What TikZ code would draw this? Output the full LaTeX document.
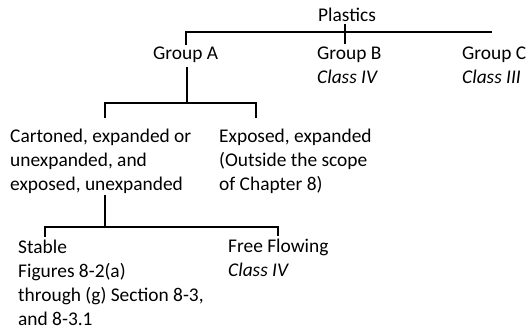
\documentclass[tikz,border=0pt]{standalone}
\usepackage{fontspec}
\setmainfont{Carlito}
\begin{document}
\begin{tikzpicture}[x=1pt,y=-1pt]
\tikzset{
  lbl/.style={inner sep=0pt, anchor=base west, align=left, font=\fontsize{19.4}{24}\selectfont},
  conn/.style={line width=1.6pt},
}
\useasboundingbox (0,0) rectangle (528,330);
% texts (anchor at baseline of the last line)
\node[lbl,anchor=base] (plastics) at (347,21) {Plastics};
\node[lbl] (groupA) at (153,59) {Group A};
\node[lbl] (groupB) at (317,83) {Group B\\\textit{Class IV}};
\node[lbl] (groupC) at (462,83) {Group C\\\textit{Class III}};
\node[lbl] (cart) at (10,190) {Cartoned, expanded or\\unexpanded, and\\exposed, unexpanded};
\node[lbl] (expo) at (219,190) {Exposed, expanded\\(Outside the scope\\of Chapter 8)};
\node[lbl] (stable) at (18,325) {Stable\\Figures 8-2(a)\\through (g) Section 8-3,\\and 8-3.1};
\node[lbl] (free) at (228,276) {Free Flowing\\\textit{Class IV}};
% junction points
\coordinate (ta) at (186,45);
\coordinate (tl) at (186,32);
\coordinate (tr) at (492,32);
\coordinate (pt) at (345,24);
\coordinate (pb) at (345,44);
\coordinate (ga) at (187,67);
\coordinate (gj) at (187,103);
\coordinate (gl) at (105,103);
\coordinate (gr) at (256,103);
\coordinate (gld) at (105,118);
\coordinate (grd) at (256,118);
\coordinate (ca) at (105,195);
\coordinate (cj) at (105,227);
\coordinate (cl) at (45,227);
\coordinate (cr) at (278,227);
\coordinate (cld) at (45,237);
\coordinate (crd) at (278,236);
% connectors
\draw[conn] (ta) -- (tl) -- (tr);
\draw[conn] (pt) -- (pb);
\draw[conn] (ga) -- (gj);
\draw[conn] (gld) -- (gl) -- (gr) -- (grd);
\draw[conn] (ca) -- (cj);
\draw[conn] (cld) -- (cl) -- (cr) -- (crd);
\end{tikzpicture}
\end{document}
